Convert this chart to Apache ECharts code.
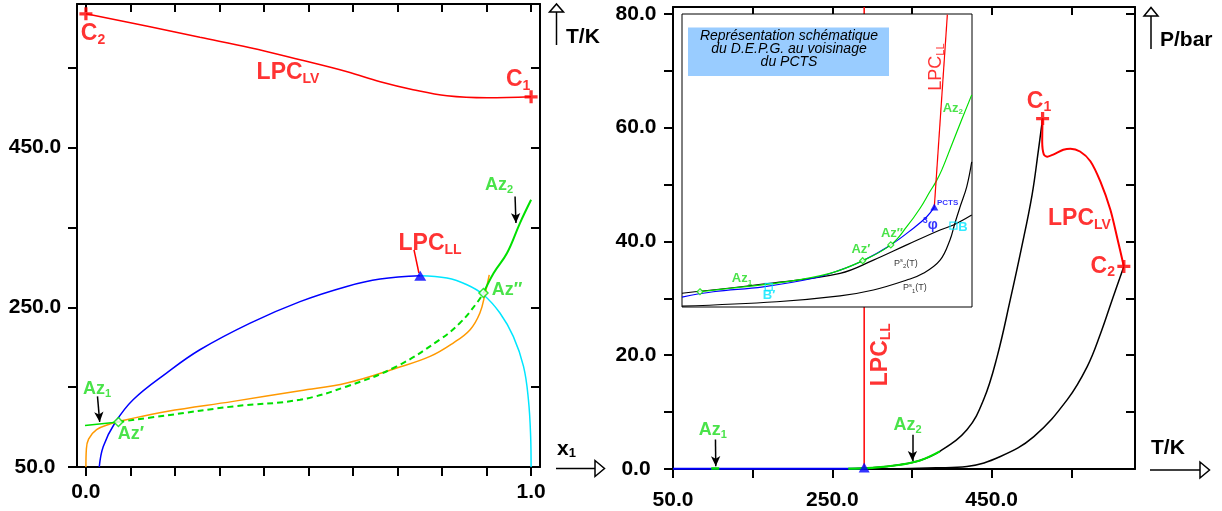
<!DOCTYPE html>
<html><head><meta charset="utf-8">
<script src="https://cdn.jsdelivr.net/npm/echarts@6/dist/echarts.min.js"></script>
<style>html,body{margin:0;padding:0;background:#fff}#c{width:1222px;height:511px}</style>
</head><body><div id="c"></div>
<script>
// ---------------- tick / label values ----------------
const xTicksL = [0,0.1,0.2,0.3,0.4,0.5,0.6,0.7,0.8,0.9,1.0];
const xLabelsL = [0,1];
const tTicks = [50,150,250,350,450,550];
const tLabels = [50,250,450];
const pTicks = [0,10,20,30,40,50,60,70,80];
const pLabels = [0,20,40,60,80];

// ---------------- left panel : T/K versus x1 ----------------
const lpcLV_Tx = [[0,617.7],[0.144,601.4],[0.256,588.3],[0.369,575.2],[0.481,560.1],[0.587,545.1],[0.661,532.6],[0.735,522.6],[0.811,515.0],[0.901,512.5],[1.0,513.7]];
const lpcLL_Tx = [[0.737,322.1],[0.748,293.0]];
const blue3ph_Tx = [[0.030,50],[0.039,75.8],[0.065,105.1],[0.106,134.3],[0.181,167.7],[0.256,196.9],[0.369,230.3],[0.481,257.2],[0.586,276.2],[0.661,285.4],[0.751,289.6]];
const cyan3ph_Tx = [[0.751,289.6],[0.811,286.7],[0.856,278.3],[0.893,265.8],[0.930,242.9],[0.960,213.6],[0.983,176.0],[0.994,134.3],[0.999,88.3],[1.0,50]];
const orange_Tx = [[0,50],[0.001,72],[0.006,85],[0.024,96.8],[0.054,103.9],[0.091,109.2],[0.181,119.6],[0.331,132.2],[0.481,145.6],[0.586,155.2],[0.698,174.0],[0.773,188.5],[0.825,205.3],[0.863,222.0],[0.885,242.9],[0.897,267.9],[0.906,290.8]];
const az1_Tx = [[-0.002,102.1],[0.073,106.4]];
const azDash_Tx = [[0.073,106.4],[0.181,114.6],[0.331,125.9],[0.481,134.3],[0.586,150.9],[0.698,176.0],[0.796,210.0],[0.840,230.3],[0.878,255.4],[0.893,267.9]];
const az2_Tx = [[0.893,267.9],[0.916,293.0],[0.946,318.0],[0.975,355.6],[1.0,384.8]];
const critL = [[0,617.7],[1.0,513.7]];          // C2, C1
const pctsL = [[0.751,289.6]];
const azPtsL = [[0.073,106.4],[0.893,267.9]];    // Az', Az''
const arrowsL = [[[0.026,138.4],[0.031,106.5]],[[0.964,388.9],[0.966,355.6]]];

// ---------------- right panel : P/bar versus T/K ----------------
const p1_PT = [[50,0],[200,0],[270,0.05],[300,0.2],[335,0.75],[360,1.5],[385,3.1],[419,6.9],[440,12.2],[457,19.8],[473.5,29.8],[487,38.5],[500.8,48.2],[508.8,56.1],[514,61.6]];
const p2_PT = [[50,0],[300,0.02],[335,0.05],[380,0.2],[419,0.46],[461,2.2],[503,5.7],[545,12.2],[570,18.0],[587,23.9],[601.5,29.8],[616,35.6]];
const lpcLV_PT = [[514,61.6],[513.5,57.5],[515.5,55.3],[520,54.9],[528,55.3],[540,56.1],[549,56.3],[561,55.8],[574,54.1],[586.6,50.5],[599,45.6],[607.7,40.6],[616,35.6]];
const lpcLL_PT = [[290,0],[290,81.2]];
const blue3ph_PT = [[50,0.05],[290,0.05]];
const az2_PT = [[270,0.05],[300,0.2],[335,0.75],[360,1.5],[385,3.1]];
const az1_PT = [[98,0.08],[108,0.08]];
const critR = [[514,61.6],[616,35.6]];
const pctsR = [[290,0.25]];
const arrowsR = [[[103.3,5.2],[103.7,0.5]],[[350.6,6.0],[350.6,1.4]]];

// ---------------- inset : schematic (arbitrary units 0-100) ----------------
const ins_P1 = [[0,0.3],[32.7,1.8],[54.5,3.8],[66.0,5.8],[77.5,9.2],[83.2,11.5],[89.0,16.0],[92.4,22.9],[94.1,28.6],[95.9,34.2],[98.2,41.1],[99.9,49.5]];
const ins_P2 = [[0,4.7],[30.3,8.1],[54.5,11.5],[66.0,16.0],[77.5,21.2],[89.0,26.3],[93.6,28.0],[99.9,31.4]];
const ins_3ph = [[0,3.4],[10.8,5.2],[28.0,6.9],[45.3,9.8],[54.5,12.6],[62.3,15.8],[72.0,21.2],[79.8,26.9],[84.4,30.8],[87.0,34.1]];
const ins_Az = [[6.2,5.2],[16.6,6.4],[33.8,8.3],[51.0,11.5],[62.3,15.8],[72.0,21.2],[77.5,27.4],[82.1,33.7],[85.5,39.4],[87.6,42.8],[89.6,46.8],[93.0,55.3],[96.4,63.8],[99.9,72.4]];
const ins_LPCLL = [[87.0,34.1],[91.5,99.8]];
const ins_azPts = [[6.2,5.2],[62.3,15.8],[72.0,21.2]];
const ins_pcts = [[87.0,34.1]];
const ins_B = [[93.6,27.8],[29.9,6.9]];

// ---------------- styling / building ----------------
const FONT = '"Liberation Sans", Arial, Helvetica, sans-serif';
const RED='#ff0000', BLUE='#0000ff', CYAN='#00e6ff', ORANGE='#ff9900', GREEN='#00e000', GREENT='#1cdc1c';
const GL={x:0,y:0,z:3}, GR={x:2,y:2,z:3}, GI={x:4,y:4,z:20};
const PLUS='path://M4.5 0h3v4.5h4.5v3h-4.5v4.5h-3v-4.5h-4.5v-3h4.5z';

function line(g, data, color, width, extra){
  return Object.assign({type:'line', xAxisIndex:g.x, yAxisIndex:g.y, data:data, showSymbol:false, symbol:'none',
    smooth:0.4, lineStyle:{color:color, width:width}, silent:true, animation:false, z:g.z}, extra||{});
}
function pts(g, data, symbol, size, style, zAdd){
  return {type:'scatter', xAxisIndex:g.x, yAxisIndex:g.y, data:data, symbol:symbol, symbolSize:size,
    itemStyle:style, silent:true, animation:false, z:g.z+(zAdd||2)};
}
function richSet(main, sub, weight){
  return {
    m:{fontSize:main, fontWeight:weight, fontFamily:FONT, lineHeight:main+3},
    s:{fontSize:sub, fontWeight:weight, fontFamily:FONT, lineHeight:sub+2, verticalAlign:'bottom'},
    u:{fontSize:sub, fontWeight:weight, fontFamily:FONT, lineHeight:sub+2, verticalAlign:'top'}
  };
}
const RB = richSet(23,14,'bold'), RA = richSet(18,11,'bold'), RI = richSet(13,8,'bold'),
      RL = richSet(18,11,'normal'), RP = richSet(9,6,'normal'), RS = richSet(8,8,'bold');
function txt(g, pos, text, color, rich, extra){
  const lab = Object.assign({show:true, position:'inside', formatter:text, color:color, rich:rich,
     fontFamily:FONT, align:'center', verticalAlign:'middle'}, extra||{});
  return {type:'scatter', xAxisIndex:g.x, yAxisIndex:g.y, data:[pos], symbolSize:1,
    itemStyle:{color:'rgba(0,0,0,0)'}, label:lab, silent:true, animation:false, z:g.z+4};
}
function arrows(list){
  return {silent:true, animation:false, symbol:['none','arrow'], symbolSize:[7,10], label:{show:false},
    lineStyle:{color:'#000', width:1.5, type:'solid'}, emphasis:{disabled:true},
    data:list.map(a=>[{coord:a[0]},{coord:a[1]}])};
}
const f1 = v => v.toFixed(1);
const lab = {fontSize:21, fontWeight:'bold', fontFamily:FONT, color:'#000'};
function axX(grid, min, max, ticks, labels, pos, margin){
  const top = pos==='top';
  return {type:'value', gridIndex:grid, position:pos, min:min, max:max, splitLine:{show:false},
    axisLine:{show:true, onZero:false, lineStyle:{color:'#000', width:2}},
    axisTick:{show:true, inside:top, length:top?8:9, customValues:ticks, lineStyle:{color:'#000', width:2}},
    axisLabel:top?{show:false}:Object.assign({show:true, customValues:labels, formatter:f1, margin:margin}, lab)};
}
function axY(grid, min, max, ticks, labels, pos, margin){
  const right = pos==='right';
  return {type:'value', gridIndex:grid, position:pos, min:min, max:max, splitLine:{show:false},
    axisLine:{show:true, onZero:false, lineStyle:{color:'#000', width:2}},
    axisTick:{show:true, inside:right, length:9, customValues:ticks, lineStyle:{color:'#000', width:2}},
    axisLabel:right?{show:false}:Object.assign({show:true, customValues:labels, formatter:f1, margin:margin, align:'center'}, lab)};
}

const series = [
  // left panel
  line(GL, lpcLV_Tx, RED, 1.5, {markLine:arrows(arrowsL)}),
  line(GL, blue3ph_Tx, BLUE, 1.5),
  line(GL, cyan3ph_Tx, CYAN, 1.5),
  line(GL, orange_Tx, ORANGE, 1.5),
  line(GL, azDash_Tx, GREEN, 2, {lineStyle:{color:GREEN, width:2, type:[6,4]}}),
  line(GL, az1_Tx, GREEN, 1.5),
  line(GL, az2_Tx, GREEN, 2),
  line(GL, lpcLL_Tx, RED, 1.5, {smooth:false}),
  pts(GL, critL, PLUS, 13, {color:RED}),
  pts(GL, pctsL, 'triangle', [12,10], {color:BLUE}),
  pts(GL, azPtsL, 'diamond', 9, {color:'#fff', borderColor:GREEN, borderWidth:1.5}),
  // right panel
  line(GR, p1_PT, '#000', 1.5, {markLine:arrows(arrowsR)}),
  line(GR, p2_PT, '#000', 1.5),
  line(GR, lpcLL_PT, RED, 1.5, {smooth:false}),
  line(GR, lpcLV_PT, RED, 2, {smooth:0.3}),
  line(GR, blue3ph_PT, BLUE, 2, {smooth:false}),
  line(GR, az2_PT, GREEN, 2.2),
  line(GR, az1_PT, GREEN, 2.5, {smooth:false}),
  pts(GR, critR, PLUS, 13, {color:RED}),
  pts(GR, pctsR, 'triangle', [11,10], {color:BLUE}),
  // inset
  line(GI, ins_P1, '#000', 1.2),
  line(GI, ins_P2, '#000', 1.2),
  line(GI, ins_3ph, BLUE, 1.2),
  line(GI, ins_Az, GREEN, 1.2),
  line(GI, ins_LPCLL, RED, 1.2, {smooth:false}),
  pts(GI, ins_azPts, 'diamond', 6, {color:'#fff', borderColor:GREEN, borderWidth:1.2}),
  pts(GI, ins_pcts, 'triangle', [8,7], {color:BLUE}),
  pts(GI, ins_B, 'rect', 7, {color:'rgba(0,0,0,0)', borderColor:CYAN, borderWidth:1.3}),
  // text annotations - left
  txt(GL, [0.016,592.7], '{m|C}{s|2}', RED, RB),
  txt(GL, [0.454,543.8], '{m|LPC}{s|LV}', RED, RB),
  txt(GL, [0.971,535.0], '{m|C}{s|1}', RED, RB),
  txt(GL, [0.773,329.6], '{m|LPC}{s|LL}', RED, RB),
  txt(GL, [0.928,403.5], '{m|Az}{s|2}', GREENT, RA),
  txt(GL, [0.946,272.0], '{m|Az\u2033}', GREENT, RA),
  txt(GL, [0.025,148.1], '{m|Az}{s|1}', GREENT, RA),
  txt(GL, [0.101,91.7], '{m|Az\u2032}', GREENT, RA),
  // text annotations - right
  txt(GR, [509.5,64.6], '{m|C}{s|1}', RED, RB),
  txt(GR, [560.3,44.0], '{m|LPC}{s|LV}', RED, RB),
  txt(GR, [589.5,35.6], '{m|C}{s|2}', RED, RB),
  txt(GR, [310.6,20.1], '{m|LPC}{s|LL}', RED, RB, {rotate:90}),
  txt(GR, [99.9,6.9], '{m|Az}{s|1}', GREENT, RA),
  txt(GR, [344.6,7.8], '{m|Az}{s|2}', GREENT, RA),
  // text annotations - inset
  txt(GI, [20.7,9.6], '{m|Az}{s|1}', GREENT, RI),
  txt(GI, [30.0,3.8], '{m|B\u2032}', CYAN, RI),
  txt(GI, [61.7,19.7], '{m|Az\u2032}', GREENT, RI),
  txt(GI, [72.4,25.1], '{m|Az\u2033}', GREENT, RI),
  txt(GI, [85.6,28.0], '{u|3}{m|\u03c6}', BLUE, richSet(14,9,'bold')),
  txt(GI, [87.9,35.5], '{m|PCTS}', BLUE, RS, {align:'left'}),
  txt(GI, [96.9,27.0], '{m|B}', CYAN, RI),
  txt(GI, [77.2,15.0], '{m|P}{u|s}{s|2}{m|(T)}', '#000', RP),
  txt(GI, [80.3,6.5], '{m|P}{u|s}{s|1}{m|(T)}', '#000', RP),
  txt(GI, [93.4,67.9], '{m|Az}{s|2}', GREENT, RI),
  txt(GI, [87.6,81.9], '{m|LPC}{s|LL}', RED, RL, {rotate:90})
];

const graphic = [
  // left : T/K arrow
  {type:'line', shape:{x1:556.5,y1:45,x2:556.5,y2:12}, style:{stroke:'#000', lineWidth:1.5}},
  {type:'polygon', shape:{points:[[549.5,12],[563.5,12],[556.5,4]]}, style:{fill:'#fff', stroke:'#000', lineWidth:1.5}},
  {type:'text', x:566, y:37, style:{text:'T/K', font:'bold 21px '+FONT, fill:'#000', align:'left', verticalAlign:'middle'}},
  // left : x1 arrow
  {type:'line', shape:{x1:556,y1:468.5,x2:595,y2:468.5}, style:{stroke:'#000', lineWidth:1.5}},
  {type:'polygon', shape:{points:[[595,460.5],[595,476.5],[604.5,468.5]]}, style:{fill:'#fff', stroke:'#000', lineWidth:1.5}},
  {type:'text', x:557, y:449, style:{text:'{a|x}{b|1}', align:'left', verticalAlign:'middle', fill:'#000',
     rich:{a:{font:'bold 21px '+FONT, lineHeight:22}, b:{font:'bold 13px '+FONT, lineHeight:14, verticalAlign:'bottom'}}}},
  // right : P/bar arrow
  {type:'line', shape:{x1:1151,y1:49,x2:1151,y2:16}, style:{stroke:'#000', lineWidth:1.5}},
  {type:'polygon', shape:{points:[[1144,16],[1158,16],[1151,7.5]]}, style:{fill:'#fff', stroke:'#000', lineWidth:1.5}},
  {type:'text', x:1160, y:40, style:{text:'P/bar', font:'bold 21px '+FONT, fill:'#000', align:'left', verticalAlign:'middle'}},
  // right : T/K arrow
  {type:'line', shape:{x1:1150,y1:470,x2:1200,y2:470}, style:{stroke:'#000', lineWidth:1.5}},
  {type:'polygon', shape:{points:[[1200,462],[1200,478],[1209.5,470]]}, style:{fill:'#fff', stroke:'#000', lineWidth:1.5}},
  {type:'text', x:1151, y:448, style:{text:'T/K', font:'bold 21px '+FONT, fill:'#000', align:'left', verticalAlign:'middle'}},
  // inset title box
  {type:'rect', z:40, shape:{x:688,y:27.5,width:201,height:48.5}, style:{fill:'#99ccff'}},
  {type:'text', z:41, x:789, y:49, style:{text:'Représentation schématique\ndu D.E.P.G. au voisinage\ndu PCTS',
     font:'italic 14px '+FONT, fill:'#000', align:'center', verticalAlign:'middle', lineHeight:13}}
];

const option = {
  animation:false,
  backgroundColor:'#fff',
  grid:[
    {left:77, top:4, width:463, height:463},
    {left:673, top:7, width:462, height:462},
    {left:682, top:14, width:290, height:293, show:true, backgroundColor:'#fff', borderColor:'#000', borderWidth:1, z:10}
  ],
  xAxis:[
    axX(0, -0.02, 1.02, xTicksL, xLabelsL, 'bottom', 15),
    axX(0, -0.02, 1.02, xTicksL, xLabelsL, 'top'),
    axX(1, 50, 630, tTicks, tLabels, 'bottom', 21),
    axX(1, 50, 630, tTicks, tLabels, 'top'),
    {type:'value', gridIndex:2, min:0, max:100, show:false}
  ],
  yAxis:[
    axY(0, 50, 630, tTicks, tLabels, 'left', 42),
    axY(0, 50, 630, tTicks, tLabels, 'right'),
    axY(1, 0, 81.2, pTicks, pLabels, 'left', 37),
    axY(1, 0, 81.2, pTicks, pLabels, 'right'),
    {type:'value', gridIndex:2, min:0, max:100, show:false}
  ],
  series:series,
  graphic:graphic
};
const chart = echarts.init(document.getElementById('c'), null, {renderer:'canvas'});
chart.setOption(option);
</script></body></html>
